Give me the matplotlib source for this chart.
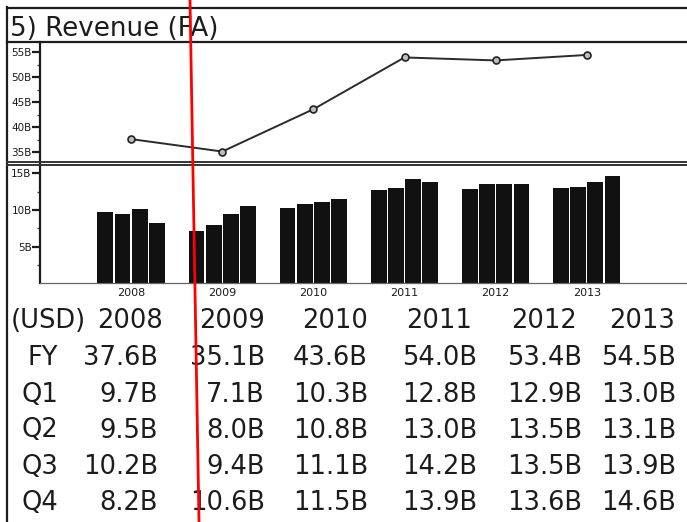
import matplotlib
matplotlib.use("Agg")
import matplotlib.pyplot as plt
from matplotlib.lines import Line2D
from matplotlib.ticker import FixedLocator, FuncFormatter

# ---- data ----
years = [2008, 2009, 2010, 2011, 2012, 2013]
fy = [37.6, 35.1, 43.6, 54.0, 53.4, 54.5]
q1 = [9.7, 7.1, 10.3, 12.8, 12.9, 13.0]
q2 = [9.5, 8.0, 10.8, 13.0, 13.5, 13.1]
q3 = [10.2, 9.4, 11.1, 14.2, 13.5, 13.9]
q4 = [8.2, 10.6, 11.5, 13.9, 13.6, 14.6]
row_labels = ["FY", "Q1", "Q2", "Q3", "Q4"]
title = "5) Revenue (FA)"
unit_label = "(USD)"

W, H = 687, 522
plt.rcParams['font.family'] = ['DejaVu Sans']
fig = plt.figure(figsize=(W / 100, H / 100), dpi=100)
fig.patch.set_facecolor('white')

def fx(x):
    return x / W

def fy_(y):
    return 1 - y / H

ink = '#1c1c1c'

# ---- axes ----
left = fx(40)
ax1 = fig.add_axes([left, fy_(162.5), 1 - left, fy_(42) - fy_(162.5)])
ax2 = fig.add_axes([left, fy_(283.3), 1 - left, fy_(165) - fy_(283.3)])

for ax in (ax1, ax2):
    ax.set_xlim(2007.0, 2014.1)
    ax.set_facecolor('none')
    for s in ('top', 'right'):
        ax.spines[s].set_visible(False)
    ax.spines['left'].set_linewidth(1.6)
    ax.spines['left'].set_color(ink)
    ax.tick_params(axis='y', which='major', direction='out', length=5.5, width=1.6,
                   color=ink, labelsize=7.5, labelcolor=ink, pad=0.5)
    ax.tick_params(axis='y', which='minor', direction='out', length=2.5, width=1.0, color='#444')
    ax.yaxis.set_major_formatter(FuncFormatter(lambda v, p: f"{int(v)}B"))

# top: FY line
ax1.plot(years, fy, color='#2a2a2a', lw=1.4, marker='o', ms=5,
         mfc='#bdbdbd', mec='#222222', mew=1.2, zorder=3)
ax1.set_ylim(32.9, 57.1)
ax1.yaxis.set_major_locator(FixedLocator([35, 40, 45, 50, 55]))
ax1.yaxis.set_minor_locator(FixedLocator([37.5, 42.5, 47.5, 52.5]))
ax1.spines['bottom'].set_visible(False)
ax1.set_xticks([])

# bottom: quarterly bars
slot = 0.189
bw = 0.173
for i, q in enumerate([q1, q2, q3, q4]):
    off = (i - 1.5) * slot
    ax2.bar([y + off for y in years], q, width=bw, color='#111111', zorder=2)
ax2.set_ylim(0, 16.16)
ax2.yaxis.set_major_locator(FixedLocator([5, 10, 15]))
ax2.yaxis.set_minor_locator(FixedLocator([2.5, 7.5, 12.5]))
ax2.spines['bottom'].set_linewidth(0.9)
ax2.spines['bottom'].set_color('#666666')
ax2.set_xticks(years)
ax2.set_xticklabels([str(y) for y in years])
ax2.tick_params(axis='x', length=0, labelsize=8, labelcolor=ink, pad=3.5)

# ---- frame lines ----
def hline(y, x0, x1, lw, c=ink):
    fig.add_artist(Line2D([fx(x0), fx(x1)], [fy_(y), fy_(y)], lw=lw, color=c,
                          transform=fig.transFigure))

def vline(x, y0, y1, lw, c=ink):
    fig.add_artist(Line2D([fx(x), fx(x)], [fy_(y0), fy_(y1)], lw=lw, color=c,
                          transform=fig.transFigure))

hline(7.5, 7, W, 1.6)
vline(7.3, 7, H, 1.6)
hline(42.3, 7, W, 1.6)
hline(162.3, 7, W, 1.4, '#333333')
hline(165.0, 7, W, 1.4, '#333333')

# ---- title ----
fig.text(fx(10.5), fy_(36), title, fontsize=18.8, color=ink, ha='left', va='baseline')

# ---- table ----
header_x = [163, 265, 368, 472, 577, 675]
value_x = [158, 265, 368, 477, 582, 676]
row_y = [358.3, 395, 430.5, 466.7, 503]
header_y = 320.5
tsize = 18.5
fig.text(fx(11), fy_(header_y), unit_label, fontsize=tsize, color=ink, ha='left', va='center')
for x, yr in zip(header_x, years):
    fig.text(fx(x), fy_(header_y), str(yr), fontsize=tsize, color=ink, ha='right', va='center')
for lab, vals, y in zip(row_labels, [fy, q1, q2, q3, q4], row_y):
    fig.text(fx(58), fy_(y), lab, fontsize=tsize, color=ink, ha='right', va='center')
    for x, v in zip(value_x, vals):
        fig.text(fx(x), fy_(y), f"{v:.1f}B", fontsize=tsize, color=ink, ha='right', va='center')

# ---- red annotation stroke ----
fig.add_artist(Line2D([fx(190), fx(199)], [fy_(0), fy_(H)], lw=2.0, color='#ff0000',
                      transform=fig.transFigure, zorder=10))

fig.savefig('out.png', dpi=100, facecolor='white')
